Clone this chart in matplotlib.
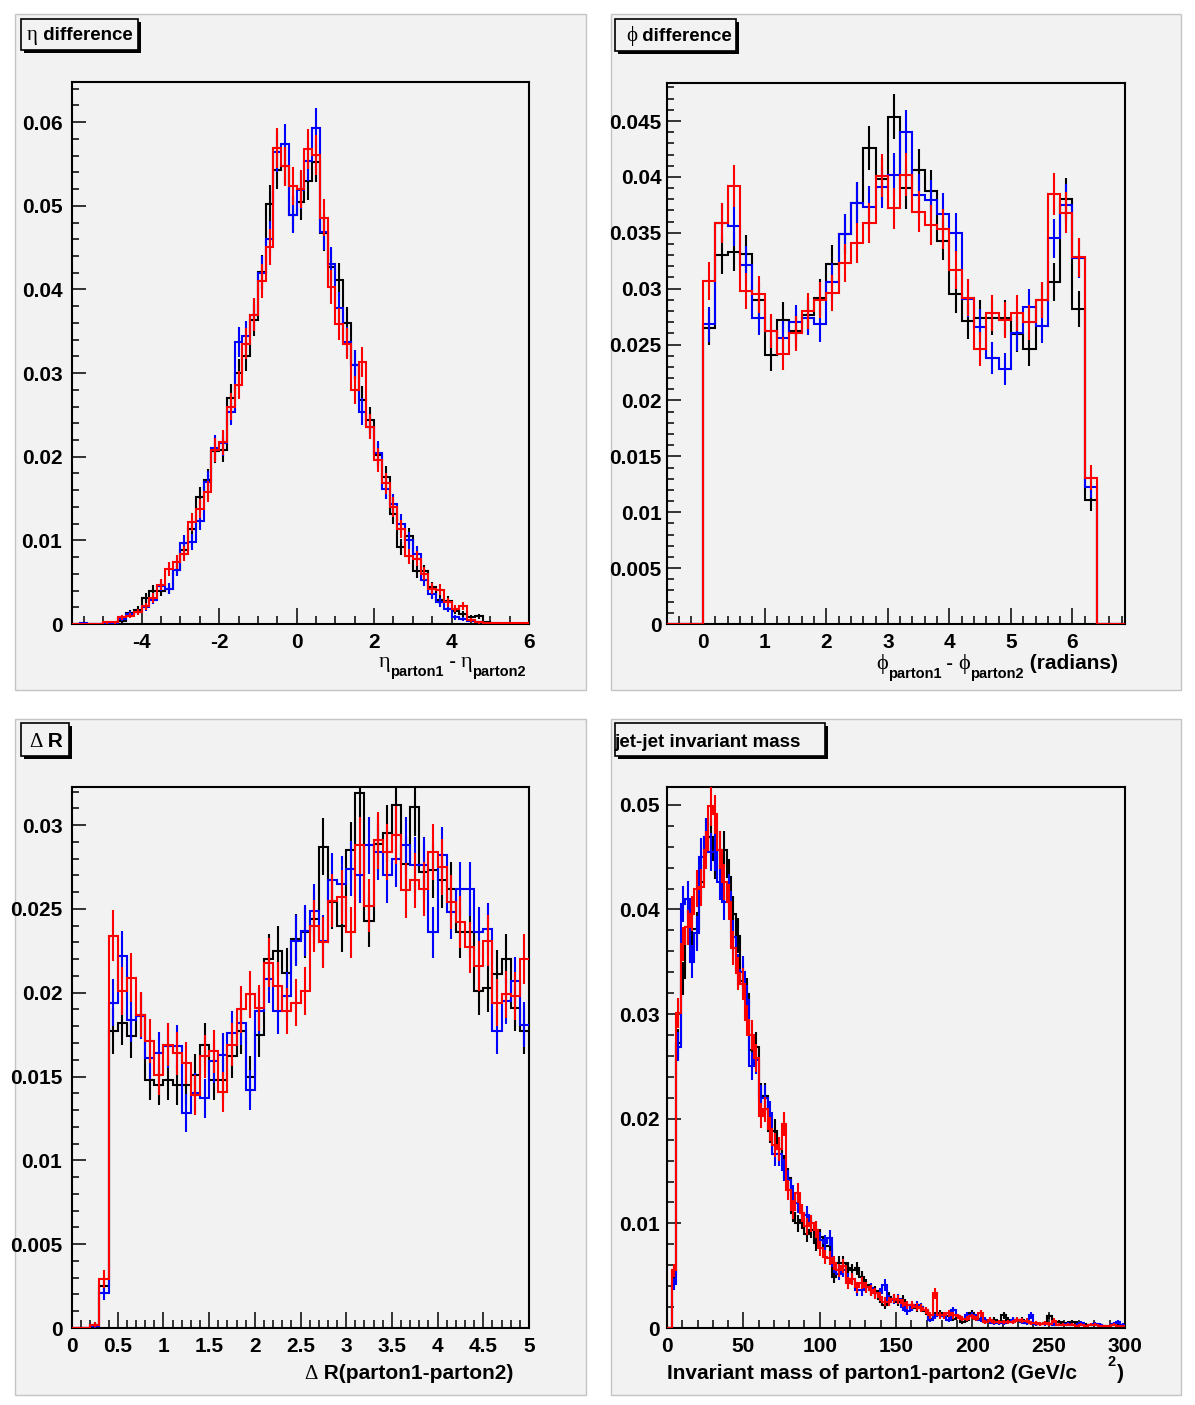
import matplotlib
matplotlib.use("Agg")
import matplotlib.pyplot as plt
import numpy as np
from matplotlib.patches import Rectangle
from matplotlib.ticker import MultipleLocator, FuncFormatter

# ---------------------------------------------------------------- data
# eta difference: 59 bins of 0.2 from -5.8 to 6.0
eta_edges = np.linspace(-5.8, 6.0, 60)
eta_black = [0, 0, 0, 0, 0.0001, 0.0001, 0.0003, 0.0013, 0.0017, 0.0031,
             0.0040, 0.0040, 0.0042, 0.0065, 0.0088, 0.0113, 0.0152, 0.0172, 0.0207, 0.0208,
             0.0270, 0.0300, 0.0320, 0.0364, 0.0421, 0.0502, 0.0543, 0.0547, 0.0489, 0.0505,
             0.0530, 0.0552, 0.0467, 0.0427, 0.0411, 0.0360, 0.0310, 0.0268, 0.0244, 0.0202,
             0.0176, 0.0131, 0.0092, 0.0105, 0.0063, 0.0063, 0.0044, 0.0029, 0.0028, 0.0016,
             0.0012, 0.0008, 0.0009, 0.0002, 0.0001, 0, 0, 0, 0]
eta_blue = [0, 0.0001, 0, 0, 0.0001, 0.0001, 0.0006, 0.0012, 0.0014, 0.0020,
            0.0029, 0.0046, 0.0042, 0.0065, 0.0097, 0.0098, 0.0123, 0.0170, 0.0211, 0.0216,
            0.0254, 0.0337, 0.0344, 0.0370, 0.0420, 0.0460, 0.0564, 0.0574, 0.0489, 0.0519,
            0.0553, 0.0593, 0.0469, 0.0430, 0.0378, 0.0337, 0.0310, 0.0254, 0.0236, 0.0204,
            0.0162, 0.0144, 0.0120, 0.0100, 0.0084, 0.0053, 0.0036, 0.0026, 0.0018, 0.0008,
            0.0006, 0.0004, 0.0002, 0.0001, 0, 0, 0, 0, 0]
eta_red = [0, 0, 0, 0, 0.0002, 0.0002, 0.0008, 0.0010, 0.0014, 0.0021,
           0.0031, 0.0047, 0.0066, 0.0074, 0.0084, 0.0122, 0.0138, 0.0158, 0.0208, 0.0217,
           0.0260, 0.0286, 0.0335, 0.0370, 0.0410, 0.0451, 0.0569, 0.0547, 0.0524, 0.0520,
           0.0568, 0.0561, 0.0486, 0.0403, 0.0359, 0.0335, 0.0280, 0.0313, 0.0236, 0.0196,
           0.0168, 0.0140, 0.0114, 0.0081, 0.0078, 0.0060, 0.0042, 0.0041, 0.0026, 0.0018,
           0.0022, 0.0005, 0.0002, 0.0001, 0.0001, 0.0001, 0.0001, 0.0001, 0.0001]

# phi difference: 32 bins of 0.2 from 0 to 6.4
phi_edges = np.linspace(0.0, 6.4, 33)
phi_black = [0.0265, 0.0330, 0.0333, 0.0331, 0.0290, 0.0241, 0.0272, 0.0262, 0.0276, 0.0292,
             0.0322, 0.0349, 0.0377, 0.0426, 0.0398, 0.0454, 0.0390, 0.0406, 0.0387, 0.0343,
             0.0295, 0.0271, 0.0274, 0.0274, 0.0274, 0.0259, 0.0246, 0.0290, 0.0306, 0.0380,
             0.0282, 0.0111]
phi_blue = [0.0268, 0.0359, 0.0356, 0.0321, 0.0274, 0.0262, 0.0256, 0.0270, 0.0274, 0.0268,
            0.0306, 0.0349, 0.0377, 0.0373, 0.0391, 0.0402, 0.0440, 0.0384, 0.0379, 0.0367,
            0.0350, 0.0291, 0.0266, 0.0238, 0.0228, 0.0260, 0.0284, 0.0267, 0.0345, 0.0375,
            0.0327, 0.0123]
phi_red = [0.0307, 0.0359, 0.0392, 0.0298, 0.0295, 0.0262, 0.0242, 0.0260, 0.0280, 0.0290,
           0.0296, 0.0323, 0.0341, 0.0359, 0.0401, 0.0372, 0.0402, 0.0369, 0.0357, 0.0353,
           0.0317, 0.0292, 0.0246, 0.0278, 0.0272, 0.0278, 0.0270, 0.0290, 0.0385, 0.0368,
           0.0328, 0.0131]

# Delta R: 50 bins of 0.1 from 0 to 5
dr_edges = np.linspace(0.0, 5.0, 51)
dr_black = [0, 0, 0.0002, 0.0025, 0.0177, 0.0182, 0.0174, 0.0187, 0.0148, 0.0145,
            0.0148, 0.0145, 0.0145, 0.0151, 0.0169, 0.0148, 0.0148, 0.0162, 0.0177, 0.0150,
            0.0175, 0.0220, 0.0225, 0.0212, 0.0232, 0.0236, 0.0244, 0.0287, 0.0254, 0.0240,
            0.0285, 0.0319, 0.0243, 0.0289, 0.0295, 0.0312, 0.0277, 0.0311, 0.0272, 0.0273,
            0.0267, 0.0262, 0.0236, 0.0236, 0.0201, 0.0203, 0.0211, 0.0220, 0.0191, 0.0177]
dr_blue = [0, 0, 0.0001, 0.0021, 0.0194, 0.0222, 0.0184, 0.0186, 0.0161, 0.0164,
           0.0168, 0.0168, 0.0128, 0.0140, 0.0137, 0.0159, 0.0163, 0.0176, 0.0182, 0.0142,
           0.0189, 0.0208, 0.0189, 0.0198, 0.0231, 0.0237, 0.0249, 0.0231, 0.0267, 0.0265,
           0.0274, 0.0270, 0.0288, 0.0284, 0.0270, 0.0280, 0.0288, 0.0276, 0.0276, 0.0236,
           0.0282, 0.0248, 0.0262, 0.0262, 0.0236, 0.0238, 0.0177, 0.0195, 0.0207, 0.0181]
dr_red = [0, 0, 0.0002, 0.0029, 0.0234, 0.0201, 0.0209, 0.0187, 0.0171, 0.0151,
          0.0169, 0.0164, 0.0158, 0.0139, 0.0162, 0.0165, 0.0141, 0.0169, 0.0190, 0.0199,
          0.0191, 0.0218, 0.0204, 0.0189, 0.0194, 0.0201, 0.0240, 0.0230, 0.0255, 0.0257,
          0.0236, 0.0288, 0.0252, 0.0291, 0.0284, 0.0294, 0.0261, 0.0267, 0.0262, 0.0284,
          0.0275, 0.0254, 0.0242, 0.0227, 0.0216, 0.0231, 0.0194, 0.0199, 0.0198, 0.0220]

# jet-jet invariant mass: 100 bins of 3 GeV from 0 to 300
mass_edges = np.linspace(0.0, 300.0, 101)
mass_black = [0, 0.0052, 0.0272, 0.0334, 0.0383, 0.0381, 0.0381, 0.0426, 0.0469, 0.0469,
              0.0447, 0.0457, 0.0457, 0.0431, 0.0396, 0.0375, 0.0332, 0.0319, 0.0266, 0.0269,
              0.0222, 0.0222, 0.0188, 0.0188, 0.0171, 0.0155, 0.0143, 0.0110, 0.0100, 0.0103,
              0.0090, 0.0094, 0.0081, 0.0087, 0.0078, 0.0078, 0.0049, 0.0062, 0.0062, 0.0057,
              0.0055, 0.0057, 0.0049, 0.0041, 0.0036, 0.0035, 0.0028, 0.0022, 0.0030, 0.0028,
              0.0025, 0.0027, 0.0022, 0.0020, 0.0019, 0.0020, 0.0016, 0.0009, 0.0012, 0.0014,
              0.0012, 0.0011, 0.0009, 0.0011, 0.0006, 0.0008, 0.0014, 0.0011, 0.0009, 0.0006,
              0.0006, 0.0008, 0.0006, 0.0012, 0.0008, 0.0006, 0.0008, 0.0008, 0.0005, 0.0005,
              0.0004, 0.0004, 0.00045, 0.0011, 0.0003, 0.0006, 0.00045, 0.00045, 0.0006, 0.00045,
              0.0003, 0.0003, 0.0003, 0.0003, 0.0003, 0.0002, 0.00013, 0.0003, 0.0004, 0.0002]
mass_blue = [0, 0.0042, 0.0269, 0.0405, 0.0410, 0.0350, 0.0377, 0.0450, 0.0469, 0.0455,
             0.0455, 0.0426, 0.0407, 0.0417, 0.0374, 0.0342, 0.0340, 0.0313, 0.0250, 0.0256,
             0.0220, 0.0220, 0.0205, 0.0166, 0.0166, 0.0151, 0.0141, 0.0127, 0.0119, 0.0110,
             0.0108, 0.0100, 0.0094, 0.0084, 0.0081, 0.0086, 0.0059, 0.0052, 0.0055, 0.0047,
             0.0047, 0.0036, 0.0036, 0.0039, 0.0038, 0.0033, 0.0033, 0.0041, 0.0027, 0.0027,
             0.0028, 0.0020, 0.0016, 0.0020, 0.0022, 0.0020, 0.0017, 0.0008, 0.0011, 0.0012,
             0.0011, 0.0008, 0.0017, 0.0011, 0.0009, 0.0012, 0.0012, 0.0011, 0.0008, 0.0008,
             0.0006, 0.00045, 0.00045, 0.00045, 0.0006, 0.0008, 0.0008, 0.0006, 0.0005, 0.0012,
             0.0004, 0.0004, 0.0004, 0.0004, 0.0003, 0.0003, 0.0003, 0.0004, 0.0003, 0.0003,
             0.0005, 0.0002, 0.0003, 0.0004, 0.0003, 0.0002, 0.0002, 0.0004, 0.0006, 0.0003]
mass_red = [0, 0.0055, 0.0301, 0.0367, 0.0383, 0.0396, 0.0420, 0.0421, 0.0457, 0.0499,
            0.0491, 0.0457, 0.0426, 0.0407, 0.0363, 0.0339, 0.0329, 0.0294, 0.0280, 0.0258,
            0.0203, 0.0209, 0.0190, 0.0175, 0.0171, 0.0195, 0.0132, 0.0113, 0.0129, 0.0110,
            0.0097, 0.0100, 0.0094, 0.0076, 0.0068, 0.0067, 0.0062, 0.0055, 0.0059, 0.0043,
            0.0047, 0.0039, 0.0043, 0.0039, 0.0036, 0.0033, 0.0030, 0.0025, 0.0025, 0.0028,
            0.0027, 0.0024, 0.0022, 0.0022, 0.0020, 0.0019, 0.0017, 0.0012, 0.0033, 0.0012,
            0.0012, 0.0014, 0.0012, 0.0011, 0.0009, 0.0009, 0.0011, 0.0009, 0.0014, 0.0006,
            0.0008, 0.0006, 0.0006, 0.0006, 0.0006, 0.0006, 0.0008, 0.0007, 0.0007, 0.00045,
            0.00045, 0.0004, 0.00045, 0.0004, 0.0007, 0.0003, 0.0003, 0.0003, 0.0003, 0.0002,
            0.0003, 0.0002, 0.0003, 0.0003, 0.0002, 0.0002, 0.0002, 0.0003, 0.0002, 0.0002]

# events behind each normalised histogram (sets the Poisson error bars)
n_events = {"eta": 10000, "phi": 11000, "dr": 10000, "mass": 14000}

# ---------------------------------------------------------------- style
plt.rcParams["font.family"] = ["Liberation Sans", "DejaVu Sans"]
plt.rcParams["font.weight"] = "bold"
GREEK = ["Liberation Serif", "DejaVu Serif"]
PAD_BG = "#f2f2f2"
COLORS = ["#000000", "#0000ff", "#ff0000"]

W, H = 1195, 1405
fig = plt.figure(figsize=(W / 100, H / 100), dpi=100)
fig.patch.set_facecolor("#ffffff")


def fx(x):
    return x / W


def fy(y):
    return 1 - y / H


def frame_rect(l, t, r, b):
    return [fx(l), fy(b), (r - l) / W, (b - t) / H]


# pad backgrounds
for (l, t, r, b) in [(15, 14, 586, 690), (611, 14, 1181, 690),
                     (15, 719, 586, 1395), (611, 719, 1181, 1395)]:
    fig.add_artist(Rectangle((fx(l), fy(b)), (r - l) / W, (b - t) / H,
                             transform=fig.transFigure, facecolor=PAD_BG,
                             edgecolor="#c4c4c4", lw=1.0, zorder=-5))


def fmt(v, pos):
    s = "%g" % round(v, 6)
    return "0" if s in ("-0", "0") else s


def setup_axes(rect, xlim, ylim, xmaj, xmin, ymaj, ymin, ypad):
    ax = fig.add_axes(rect)
    ax.set_facecolor(PAD_BG)
    ax.set_xlim(*xlim)
    ax.set_ylim(*ylim)
    ax.xaxis.set_major_locator(MultipleLocator(xmaj))
    ax.xaxis.set_minor_locator(MultipleLocator(xmin))
    ax.yaxis.set_major_locator(MultipleLocator(ymaj))
    ax.yaxis.set_minor_locator(MultipleLocator(ymin))
    ax.xaxis.set_major_formatter(FuncFormatter(fmt))
    ax.yaxis.set_major_formatter(FuncFormatter(fmt))
    ax.tick_params(which="both", direction="in", top=False, right=False,
                   width=1.1, labelsize=15)
    ax.tick_params(axis="x", which="major", length=11.7, pad=6.5)
    ax.tick_params(axis="x", which="minor", length=5.9)
    ax.tick_params(axis="y", which="major", length=9.9, pad=ypad)
    ax.tick_params(axis="y", which="minor", length=4.9)
    for sp in ax.spines.values():
        sp.set_linewidth(1.5)
    return ax


def draw_hists(ax, edges, series, n_ev):
    edges = np.asarray(edges)
    centers = 0.5 * (edges[:-1] + edges[1:])
    for vals, c in zip(series, COLORS):
        vals = np.asarray(vals, dtype=float)
        ax.stairs(vals, edges, baseline=None, color=c, lw=1.5, zorder=3)
        err = np.sqrt(vals / n_ev)
        m = vals > 0
        ax.vlines(centers[m], vals[m] - err[m], vals[m] + err[m], colors=c,
                  lw=1.5, zorder=3)


renderer = fig.canvas.get_renderer()


def pieces(items, x, y, align="left"):
    """Place a row of text pieces; each item is (text, size, kind, dy_px)."""
    arts = []
    for s, size, kind, dy in items:
        kw = dict(fontsize=size, zorder=10)
        if kind == "greek":
            kw.update(family=GREEK, weight="normal")
        else:
            kw.update(weight="bold")
        t = fig.text(0, 0, s, ha="left", va="baseline", **kw)
        arts.append((t, dy, t.get_window_extent(renderer).width))
    total = sum(w for _, _, w in arts)
    cx = x - total if align == "right" else x
    for t, dy, w in arts:
        t.set_position((fx(cx), fy(y + dy)))
        cx += w


def title_box(l, t, r, b):
    fig.add_artist(Rectangle((fx(l + 3), fy(b + 3)), (r - l) / W, (b - t) / H,
                             transform=fig.transFigure, facecolor="#000000",
                             edgecolor="none", zorder=5))
    fig.add_artist(Rectangle((fx(l), fy(b)), (r - l) / W, (b - t) / H,
                             transform=fig.transFigure, facecolor=PAD_BG,
                             edgecolor="#000000", lw=1.2, zorder=6))


# ---------------------------------------------------------------- panel 1
ax1 = setup_axes(frame_rect(72, 82, 529, 624), (-5.8, 6.0), (0, 0.0648),
                 2, 0.5, 0.01, 0.002, 7.0)
draw_hists(ax1, eta_edges, [eta_black, eta_blue, eta_red], n_events["eta"])

# ---------------------------------------------------------------- panel 2
phi_full_edges = np.concatenate([[-0.6, -0.4, -0.2], phi_edges, [6.6, 6.8, 7.0]])
pad_zero = lambda v: np.concatenate([np.zeros(3), v, np.zeros(3)])
ax2 = setup_axes(frame_rect(667, 83, 1125, 624), (-0.588, 6.854), (0, 0.0484),
                 1, 0.2, 0.005, 0.001, 4.0)
draw_hists(ax2, phi_full_edges,
           [pad_zero(phi_black), pad_zero(phi_blue), pad_zero(phi_red)],
           n_events["phi"])

# ---------------------------------------------------------------- panel 3
ax3 = setup_axes(frame_rect(72, 786.5, 529, 1328), (0, 5), (0, 0.0323),
                 0.5, 0.1, 0.005, 0.001, 7.0)
draw_hists(ax3, dr_edges, [dr_black, dr_blue, dr_red], n_events["dr"])

# ---------------------------------------------------------------- panel 4
ax4 = setup_axes(frame_rect(667, 787, 1125, 1328), (0, 300), (0, 0.0517),
                 50, 10, 0.01, 0.002, 5.0)
draw_hists(ax4, mass_edges, [mass_black, mass_blue, mass_red], n_events["mass"])

# ---------------------------------------------------------------- titles
title_box(21, 19, 138, 50)
pieces([("\u03b7", 15, "greek", 0), (" difference", 13.5, "bold", 0)], 27, 40)

title_box(615, 19, 736, 51)
pieces([("\u03d5", 15, "greek", 0), (" difference", 13.5, "bold", 0)], 626, 41)

title_box(21, 723, 69, 756)
pieces([("\u0394", 15, "greek", 0), (" R", 15, "bold", 0)], 29, 747)

title_box(615, 723, 825, 756)
pieces([("jet-jet invariant mass", 13.5, "bold", 0)], 614, 747)

# ---------------------------------------------------------------- axis titles
pieces([("\u03b7", 16, "greek", 0), ("parton1", 10.5, "bold", 9),
        (" - ", 14, "bold", 0), ("\u03b7", 16, "greek", 0),
        ("parton2", 10.5, "bold", 9)], 526, 667, align="right")

pieces([("\u03d5", 16, "greek", 0), ("parton1", 10.5, "bold", 9),
        (" - ", 14, "bold", 0), ("\u03d5", 16, "greek", 0),
        ("parton2", 10.5, "bold", 9), (" (radians)", 15, "bold", 0)],
       1118, 669, align="right")

pieces([("\u0394", 15, "greek", 0), (" R(parton1-parton2)", 15, "bold", 0)],
       513, 1379, align="right")

pieces([("Invariant mass of parton1-parton2 (GeV/c", 15, "bold", 0)], 667, 1379)
pieces([("2", 10.5, "bold", -13)], 1107, 1379)
pieces([(")", 15, "bold", 0)], 1117, 1379)

fig.savefig("out.png", dpi=100, facecolor=fig.get_facecolor())
